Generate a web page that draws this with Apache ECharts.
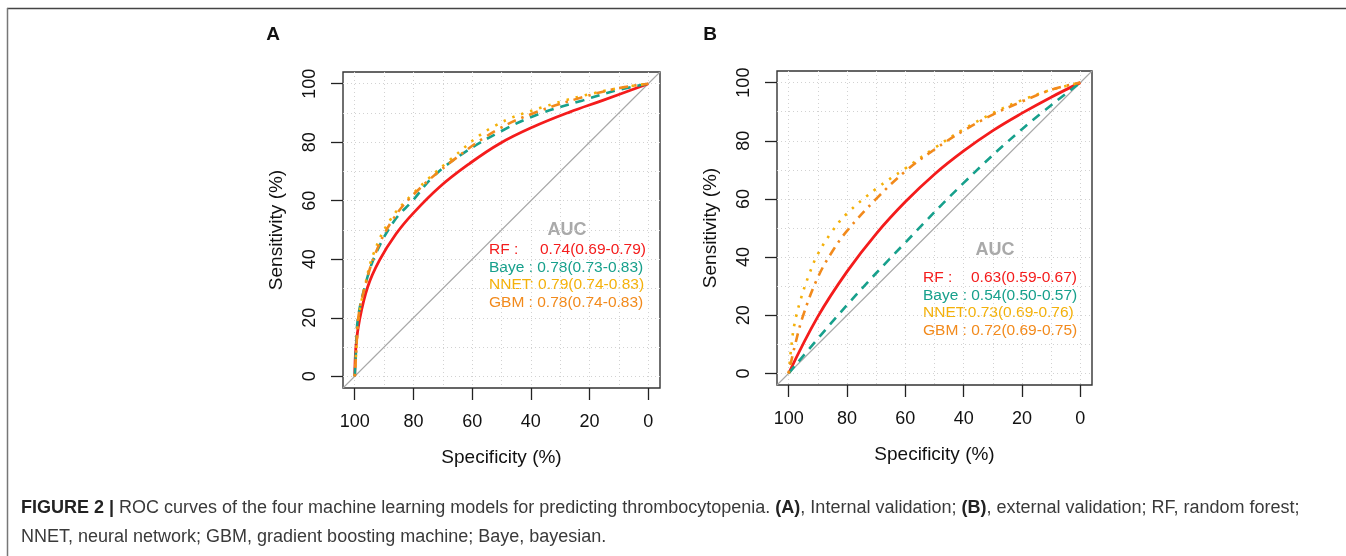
<!DOCTYPE html>
<html>
<head>
<meta charset="utf-8">
<script src="https://cdn.jsdelivr.net/npm/echarts@6/dist/echarts.min.js"></script>
<style>
  html, body { margin: 0; padding: 0; background: #fff; }
  #chart { width: 1346px; height: 556px; }
</style>
</head>
<body>
<div id="chart"></div>
<script>
// tick labels and dotted grid positions (percent)
const tickVals = [0, 20, 40, 60, 80, 100];
const gridVals = [0, 10, 20, 30, 40, 50, 60, 70, 80, 90, 100];

// chance line, corner to corner of the plot box
const diagSpec = [104, -4];
const diagSens = [-4, 104];

// panel A, internal validation: specificity / sensitivity (%)
const specA_RF = [100, 99.6, 98.4, 95.6, 91.6, 85.9, 80.2, 71.1, 60.9, 50.7, 39.3, 26.8, 15.5, 0];
const sensA_RF = [0, 10, 19.1, 30.5, 39.6, 48.7, 55.6, 64.7, 72.7, 79.5, 85.2, 90.3, 94.3, 100];
const specA_Baye = [100, 99.5, 99, 96.6, 92.8, 86.4, 80.2, 73.4, 63.2, 49.5, 37, 22.3, 10.9, 0];
const sensA_Baye = [0, 10, 19.1, 30.5, 41.9, 53.3, 60.1, 68.1, 76.1, 84.1, 89.7, 94.3, 97.7, 100];
const specA_NNET = [100, 99.4, 98.7, 96.5, 93.6, 88, 80.2, 67.7, 53, 35.9, 14.3, 0];
const sensA_NNET = [0, 10, 20, 31, 41.9, 53.3, 62.4, 73.8, 85.2, 92, 97.7, 100];
const specA_GBM = [100, 99.4, 98.8, 96.4, 93, 87.2, 79.7, 66.5, 51.7, 38.1, 22.3, 10.9, 0];
const sensA_GBM = [0, 10, 20, 31, 41.9, 53.3, 62.4, 73.8, 84.1, 90.3, 95.4, 98.3, 100];

// panel B, external validation
const specB_RF = [100, 90, 80, 70, 60, 50, 40, 30, 20, 10, 0];
const sensB_RF = [0, 19.5, 35, 48, 59, 68.5, 76.5, 83.5, 89.5, 95, 100];
const specB_Baye = [100, 80, 60, 40, 20, 0];
const sensB_Baye = [0, 23.5, 45, 65.5, 84, 100];
const specB_NNET = [100, 99, 98, 96, 93, 90, 85, 80, 70, 60, 50, 40, 30, 20, 10, 0];
const sensB_NNET = [0, 10, 17, 25, 34, 41, 49, 55, 63.5, 70.5, 77.5, 84, 89.5, 94, 97.5, 100];
const specB_GBM = [100, 98, 95, 90, 85, 80, 70, 60, 50, 40, 30, 20, 10, 0];
const sensB_GBM = [0, 9, 20, 33, 42, 49, 60, 69.5, 77, 83.5, 89, 93.5, 97.5, 100];

// AUC legend text
const aucA = ['0.74(0.69-0.79)', 'Baye : 0.78(0.73-0.83)', 'NNET: 0.79(0.74-0.83)', 'GBM : 0.78(0.74-0.83)'];
const aucB = ['0.63(0.59-0.67)', 'Baye : 0.54(0.50-0.57)', 'NNET:0.73(0.69-0.76)', 'GBM : 0.72(0.69-0.75)'];

const FONT = '"Liberation Sans", Arial, sans-serif';
const C_RF = '#f41c1c', C_BAYE = '#17a08c', C_NNET = '#f4b10a', C_GBM = '#f28a1c';

const chart = echarts.init(document.getElementById('chart'), null, { renderer: 'canvas' });

function zip(a, b) { return a.map((v, i) => [v, b[i]]); }

function mainX(gi) {
  return {
    gridIndex: gi, type: 'value', inverse: true, min: -4, max: 104,
    axisLine: { show: false, onZero: false },
    axisTick: { show: true, customValues: tickVals, length: 12, lineStyle: { color: '#222', width: 1.3 } },
    axisLabel: { customValues: tickVals, fontSize: 18, color: '#111', fontFamily: FONT, margin: 25 },
    splitLine: { show: false },
    name: 'Specificity (%)', nameLocation: 'middle', nameGap: 60,
    nameTextStyle: { fontSize: 19, color: '#111', fontFamily: FONT }
  };
}
function mainY(gi) {
  return {
    gridIndex: gi, type: 'value', min: -4, max: 104,
    axisLine: { show: false, onZero: false },
    axisTick: { show: true, customValues: tickVals, length: 12, lineStyle: { color: '#222', width: 1.3 } },
    axisLabel: { customValues: tickVals, fontSize: 18, color: '#111', fontFamily: FONT, margin: 24, rotate: 90 },
    splitLine: { show: false },
    name: 'Sensitivity (%)', nameLocation: 'middle', nameGap: 57,
    nameTextStyle: { fontSize: 19, color: '#111', fontFamily: FONT }
  };
}
function gridAxis(gi, inverse) {
  return {
    gridIndex: gi, type: 'value', inverse: inverse, min: -4, max: 104,
    axisLine: { show: false, onZero: false },
    axisTick: { show: false, customValues: gridVals },
    axisLabel: { show: false, customValues: gridVals },
    splitLine: { show: true, lineStyle: { color: '#d2d2d2', width: 1, type: [1, 3] } }
  };
}

function curve(gi, spec, sens, color, dash, width) {
  return {
    type: 'line', xAxisIndex: gi * 2, yAxisIndex: gi * 2,
    data: zip(spec, sens), showSymbol: false, smooth: 0.4, silent: true,
    lineStyle: { color: color, width: width, type: dash, cap: 'butt' }
  };
}
function diag(gi) {
  return {
    type: 'line', xAxisIndex: gi * 2, yAxisIndex: gi * 2,
    data: zip(diagSpec, diagSens), showSymbol: false, silent: true,
    lineStyle: { color: '#a8a8a8', width: 1.1 }
  };
}

function txt(x, y, text, color, size, weight, align) {
  return {
    type: 'text', x: x, y: y, silent: true,
    style: { text: text, fill: color, fontSize: size, fontWeight: weight || 'normal',
             fontFamily: FONT, align: align || 'left', verticalAlign: 'middle' }
  };
}

function legend(x0, xv, yAuc, xAuc, ys, vals) {
  return [
    txt(xAuc, yAuc, 'AUC', '#a9a9a9', 18, 'bold', 'center'),
    txt(x0, ys[0], 'RF :', C_RF, 15.5),
    txt(xv, ys[0], vals[0], C_RF, 15.5),
    txt(x0, ys[1], vals[1], C_BAYE, 15.5),
    txt(x0, ys[2], vals[2], C_NNET, 15.5),
    txt(x0, ys[3], vals[3], C_GBM, 15.5)
  ];
}

const option = {
  backgroundColor: '#fff',
  animation: false,
  grid: [
    { left: 343, top: 72, width: 317, height: 316, show: true, borderColor: '#333', borderWidth: 1.4, backgroundColor: 'transparent' },
    { left: 777, top: 71, width: 315, height: 314, show: true, borderColor: '#333', borderWidth: 1.4, backgroundColor: 'transparent' }
  ],
  xAxis: [mainX(0), gridAxis(0, true), mainX(1), gridAxis(1, true)],
  yAxis: [mainY(0), gridAxis(0, false), mainY(1), gridAxis(1, false)],
  series: [
    diag(0),
    curve(0, specA_RF, sensA_RF, C_RF, 'solid', 2.8),
    curve(0, specA_Baye, sensA_Baye, C_BAYE, [9, 7], 2.6),
    curve(0, specA_NNET, sensA_NNET, C_NNET, [2.5, 7], 2.6),
    curve(0, specA_GBM, sensA_GBM, C_GBM, [2.5, 6, 9, 6], 2.6),
    diag(1),
    curve(1, specB_RF, sensB_RF, C_RF, 'solid', 2.8),
    curve(1, specB_Baye, sensB_Baye, C_BAYE, [9, 7], 2.6),
    curve(1, specB_NNET, sensB_NNET, C_NNET, [2.5, 7], 2.6),
    curve(1, specB_GBM, sensB_GBM, C_GBM, [2.5, 6, 9, 6], 2.6)
  ],
  graphic: [].concat(
    [
      { type: 'line', silent: true, shape: { x1: 7, y1: 8.5, x2: 1346, y2: 8.5 }, style: { stroke: '#444', lineWidth: 1.5 } },
      { type: 'line', silent: true, shape: { x1: 7.5, y1: 8, x2: 7.5, y2: 556 }, style: { stroke: '#777', lineWidth: 1.5 } },
      txt(273, 35, 'A', '#111', 19, 'bold', 'center'),
      txt(710, 35, 'B', '#111', 19, 'bold', 'center')
    ],
    legend(489, 540, 230, 567, [250, 267.5, 285, 302.5], aucA),
    legend(923, 971, 250, 995, [278, 295.5, 312.5, 330.5], aucB),
    [
      {
        type: 'text', x: 21, y: 508, silent: true,
        style: {
          text: '{b|FIGURE 2 |} ROC curves of the four machine learning models for predicting thrombocytopenia. {b|(A)}, Internal validation; {b|(B)}, external validation; RF, random forest;',
          fill: '#3a3a3a', fontSize: 18, fontFamily: FONT, verticalAlign: 'middle',
          rich: { b: { fontWeight: 'bold', fill: '#222', fontSize: 18, fontFamily: FONT } }
        }
      },
      txt(21, 537, 'NNET, neural network; GBM, gradient boosting machine; Baye, bayesian.', '#3a3a3a', 18)
    ]
  )
};

chart.setOption(option);
</script>
</body>
</html>
